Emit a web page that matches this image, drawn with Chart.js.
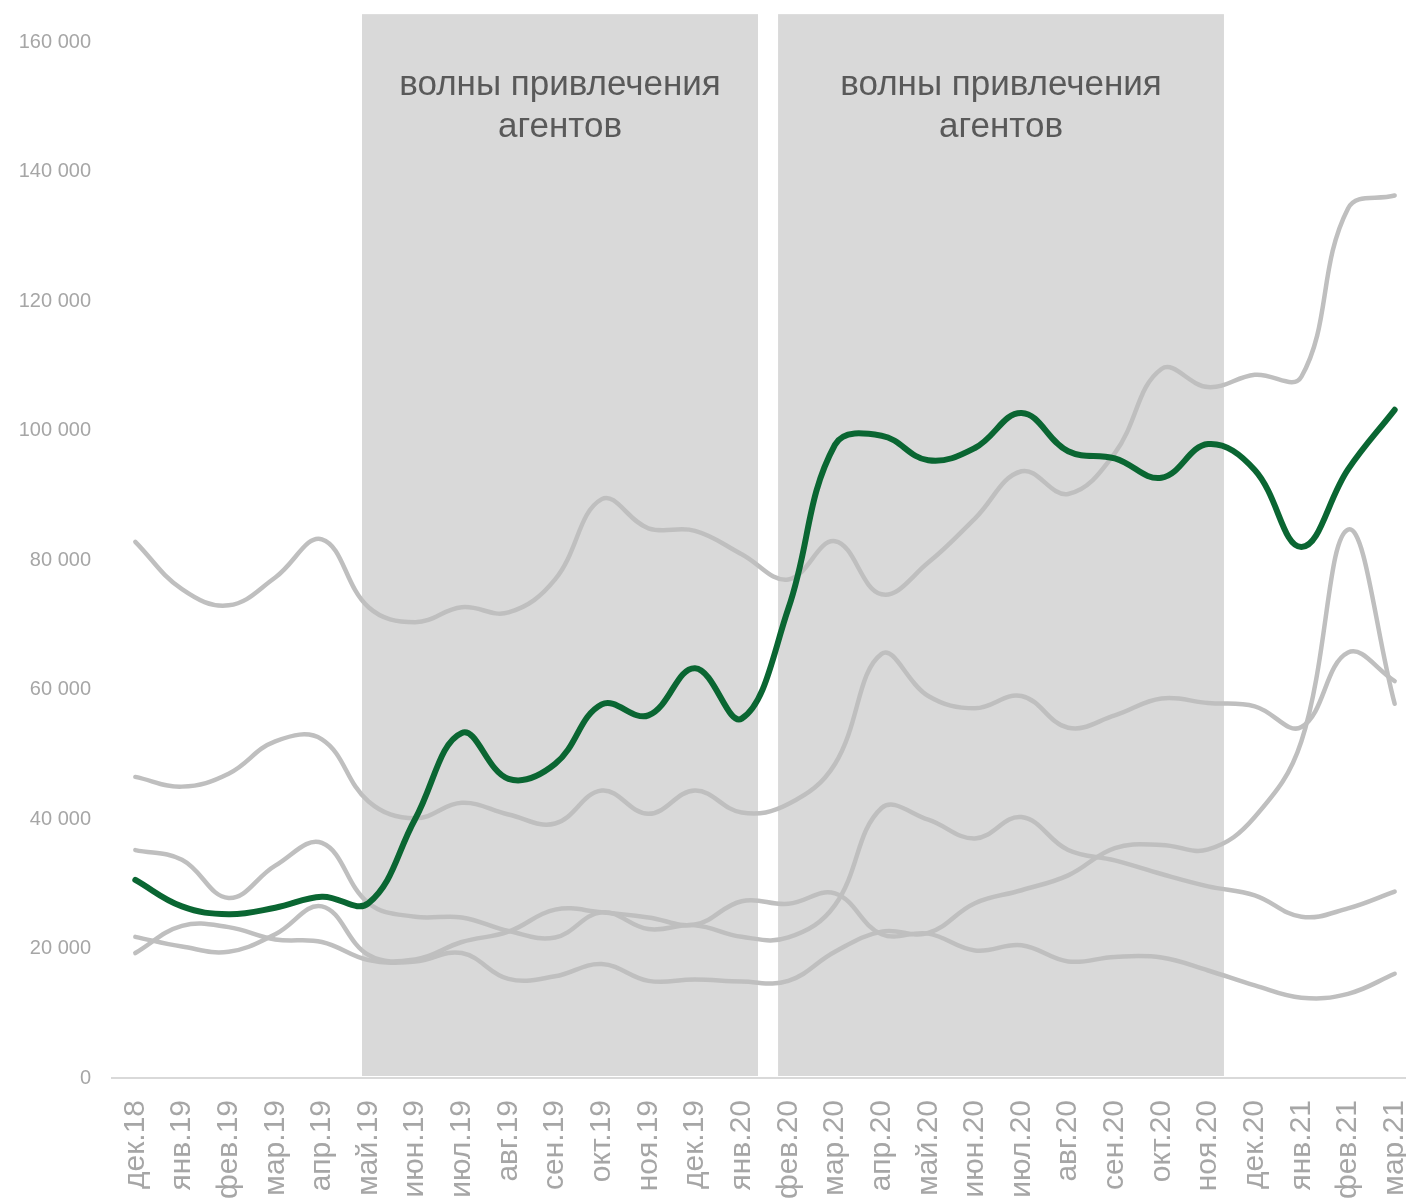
<!DOCTYPE html>
<html lang="ru">
<head>
<meta charset="utf-8">
<title>Волны привлечения агентов</title>
<script src="https://cdn.jsdelivr.net/npm/chart.js@4"></script>
<style>
  html, body { margin: 0; padding: 0; background: #fff; overflow: hidden; }
  #wrap { width: 1418px; height: 1200px; }
</style>
</head>
<body>
<div id="wrap"><canvas id="chart" width="1418" height="1200"></canvas></div>
<script>
const months = ["дек.18", "янв.19", "фев.19", "мар.19", "апр.19", "май.19", "июн.19", "июл.19", "авг.19", "сен.19",
  "окт.19", "ноя.19", "дек.19", "янв.20", "фев.20", "мар.20", "апр.20", "май.20", "июн.20", "июл.20",
  "авг.20", "сен.20", "окт.20", "ноя.20", "дек.20", "янв.21", "фев.21", "мар.21"];

const highlighted = [30600, 26500, 25300, 26300, 28000, 27000, 40000, 53300, 46200, 48500,
  57700, 56000, 63300, 55500, 72500, 97800, 99200, 95400, 97300, 102700,
  96800, 95700, 92700, 97900, 93900, 82000, 94000, 103200];

const otherA = [82800, 75500, 73000, 77300, 83200, 72700, 70400, 72700, 71900, 77000,
  89400, 84900, 84500, 80900, 77000, 82900, 74700, 79600, 86400, 93700,
  90200, 96500, 109500, 106700, 108600, 108300, 134300, 136300];

const otherB = [46500, 45000, 47000, 52000, 52300, 42700, 40100, 42500, 40700, 39300,
  44400, 40800, 44400, 41000, 42300, 48500, 65500, 59000, 57100, 59000,
  54100, 56000, 58600, 57900, 57400, 54200, 65700, 61300];

const otherC = [35200, 33700, 27800, 32800, 36300, 27000, 24900, 24800, 22700, 21700,
  25600, 23000, 23600, 21800, 21700, 26700, 41700, 39900, 37000, 40300,
  35200, 33600, 31500, 29600, 28200, 24900, 26200, 28800];

const otherD = [21800, 20300, 19500, 22200, 26500, 19000, 18300, 21000, 22600, 26000,
  25600, 24800, 23700, 27300, 26900, 28500, 22200, 22300, 19700, 20500,
  18000, 18700, 18600, 16600, 14300, 12400, 13000, 16100];

const otherE = [19300, 23500, 23300, 21400, 21000, 18200, 18000, 19300, 15300, 15700,
  17600, 15000, 15200, 14900, 15000, 19500, 22600, 22400, 27000, 29000,
  31300, 35500, 36000, 35300, 40300, 52000, 84700, 57800];

// shaded periods, in category units (fractional indices)
const waveStart = [4.86, 13.78];
const waveEnd = [13.35, 23.34];
const waveTop = 164300;
const waveLabel = ["волны привлечения", "агентов"];

const yMax = 160000;
const yStep = 20000;

const GREEN = "#0a6632";
const GREY = "#bfbfbf";

function fmtThousands(v) {
  return String(v).replace(/\B(?=(\d{3})+(?!\d))/g, " ");
}

const wavesPlugin = {
  id: "waves",
  beforeDraw(chart) {
    const { ctx, scales: { x, y } } = chart;
    ctx.save();
    for (let i = 0; i < waveStart.length; i++) {
      const left = x.getPixelForValue(waveStart[i]);
      const right = x.getPixelForValue(waveEnd[i]);
      const top = y.getPixelForValue(waveTop);
      const bottom = y.getPixelForValue(0) - 2;
      ctx.fillStyle = "#d9d9d9";
      ctx.fillRect(left, top, right - left, bottom - top);

      const cx = (left + right) / 2;
      ctx.fillStyle = "#595959";
      ctx.font = "35px 'Liberation Sans', Arial, sans-serif";
      ctx.textAlign = "center";
      ctx.textBaseline = "alphabetic";
      ctx.fillText(waveLabel[0], cx, top + 81);
      ctx.fillText(waveLabel[1], cx, top + 123);
    }
    ctx.restore();
  },
};

function line(data, color, width) {
  return {
    data,
    borderColor: color,
    borderWidth: width,
    pointRadius: 0,
    pointHoverRadius: 0,
    tension: 0.4,
    fill: false,
    borderCapStyle: "round",
    borderJoinStyle: "round",
  };
}

new Chart(document.getElementById("chart"), {
  type: "line",
  data: {
    labels: months,
    datasets: [
      line(highlighted, GREEN, 6),
      line(otherA, GREY, 4.5),
      line(otherB, GREY, 4.5),
      line(otherC, GREY, 4.5),
      line(otherD, GREY, 4.5),
      line(otherE, GREY, 4.5),
    ],
  },
  options: {
    responsive: false,
    animation: false,
    layout: { padding: { top: 42, right: 0, left: 0, bottom: 0 } },
    plugins: {
      legend: { display: false },
      tooltip: { enabled: false },
    },
    scales: {
      x: {
        offset: true,
        grid: { display: false, drawTicks: false },
        border: { display: true, color: "#d9d9d9", width: 2 },
        ticks: {
          autoSkip: false,
          minRotation: 90,
          maxRotation: 90,
          padding: 22,
          color: "#a6a6a6",
          font: { family: "'Liberation Sans', Arial, sans-serif", size: 30 },
        },
        afterFit(scale) {
          scale.height = 122;
          scale.paddingLeft = 0;
          scale.paddingRight = 0;
        },
      },
      y: {
        min: 0,
        max: yMax,
        grid: { display: false, drawTicks: false },
        border: { display: false },
        ticks: {
          stepSize: yStep,
          padding: 21,
          color: "#a6a6a6",
          font: { family: "'Liberation Sans', Arial, sans-serif", size: 20 },
          callback: (v) => fmtThousands(v),
        },
        afterFit(scale) { scale.width = 112; },
      },
    },
  },
  plugins: [wavesPlugin],
});
</script>
</body>
</html>
